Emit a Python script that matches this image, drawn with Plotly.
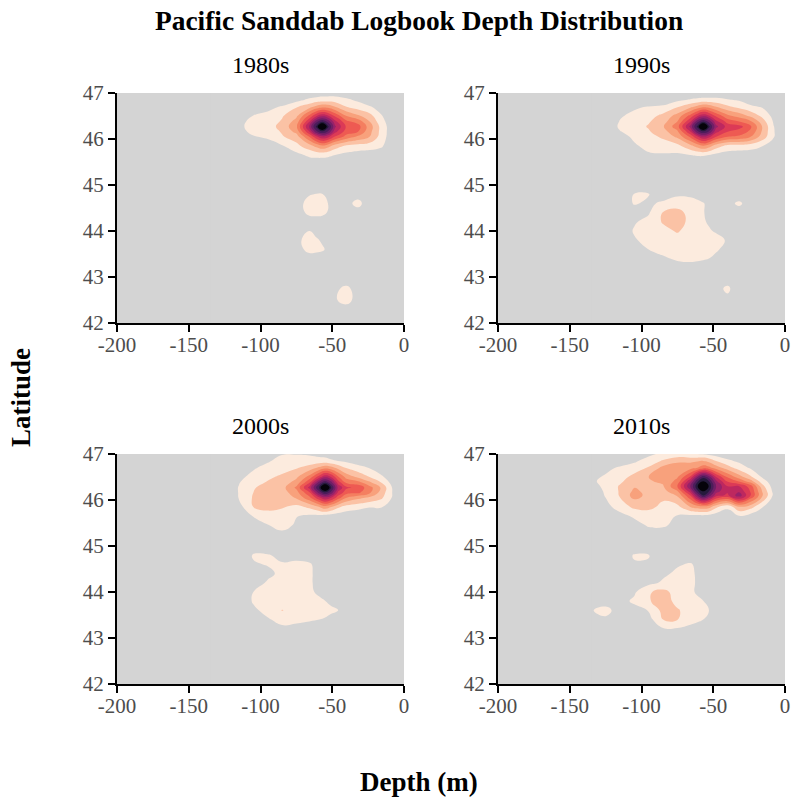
import plotly.graph_objects as go

DEPTH = [-135,-125,-115,-105,-95,-85,-75,-66,-61,-57,-53,-48,-40,-32,-24,-16,-8,0]
DEPTH_2000S = [-135,-125,-115,-105,-95,-85,-75,-66,-59,-55,-51,-46,-40,-32,-24,-16,-8,0]
LAT = [47,46.85,46.7,46.5,46.38,46.27,46.16,46.05,45.85,45.65,45.45,45.2,45,44.8,44.6,44.4,44.2,44,43.8,43.6,43.4,43.2,43,42.75,42.5,42.25,42]
LAT_2010S = [47,46.85,46.7,46.5,46.41,46.3,46.19,46.1,45.85,45.65,45.45,45.2,45,44.8,44.6,44.4,44.2,44,43.8,43.6,43.4,43.2,43,42.75,42.5,42.25,42]

# Rows run north to south; trailing zeros are left out of each row.
D1980 = [
[0,0,0,0,0,0,0,.3,.4,.5,.5,.5,.3],
[0,0,0,0,0,.2,.7,1.2,1.4,1.5,1.5,1.5,1.2,.8,.2],
[0,0,0,.2,.7,1.1,1.9,2.6,3.3,3.7,3.6,3,2,1.5,1.1,.6],
[0,0,.2,1.05,1.3,1.9,2.8,5.3,6.9,7.8,7.2,5.8,4,3.2,2.4,1.1,.3],
[0,0,.6,1.4,1.5,2.1,3.4,6.9,9.7,10.8,9.7,7.3,5.2,4.6,3,1.4,.3],
[0,0,.7,1.5,1.6,2.3,3.8,8.2,11.3,14.5,11.3,8.2,5.8,5.4,3.5,1.7,.3],
[0,0,.6,1.3,1.4,2.1,3.3,6.9,9.7,10.8,9.9,7.3,5.5,5,3.3,1.7,.3],
[0,0,.1,.9,1.2,1.9,2.5,5,6.8,7.8,7.3,5.9,4.6,3.8,3,1.6,.3],
[0,0,0,0,.4,.9,1.7,2.6,3.3,3.8,3.4,2.5,1.8,1.6,1.5,1.2,.1],
[0,0,0,0,0,.2,.7,1.2,1.3,1.3,1.2,1,.7,.5,.4,.2],
[0,0,0,0,0,0,.1,.3,.3,.3,.3,.2,.1],
[],
[],
[0,0,0,0,0,0,.2,.9,1.05,1.05,.7,.2,0,.3],
[0,0,0,0,0,0,.4,1.5,1.6,1.5,1,.3,.5,1.5],
[0,0,0,0,0,0,.2,1.4,1.5,1.4,.9,.2,0,.3],
[0,0,0,0,0,0,0,.2,.2,.2,.1],
[0,0,0,0,0,0,.3,1,.5,.2],
[0,0,0,0,0,0,.6,1.6,1.2,.8,.3],
[0,0,0,0,0,0,.3,1.5,1.4,1.2,.7,.2],
[0,0,0,0,0,0,0,.2,.2,.2,.1],
[],
[],
[0,0,0,0,0,0,0,0,0,0,0,.75,1.3,.4],
[0,0,0,0,0,0,0,0,0,0,0,.85,1.6,.3],
[],
[],
]

D1990 = [
[0,0,0,0,0,0,.2,.2,.3,.3,.3,.3,.2,.1],
[0,0,0,0,.1,.3,.8,1.1,1.2,1.3,1.3,1.3,1.1,.9,.4],
[0,0,.2,.85,1.05,1.2,1.9,2.7,3.3,3.8,3.6,3,2.2,1.7,1.2,.9,.2],
[0,0,.9,1.25,1.6,2.3,3.4,5.4,6.9,7.8,7.2,5.8,4.3,3.6,2.8,1.8,.7],
[0,.2,1.05,1.35,1.9,2.6,4,6.9,9.7,10.8,9.7,7.3,5.6,5,4.2,2.5,.9],
[0,.3,1.15,1.5,2.1,2.9,4.6,8.3,11.3,14.5,11.3,8.3,6.6,6.4,5.2,3,1.05],
[0,.2,.95,1.35,1.9,2.6,3.8,6.9,9.7,10.8,9.9,7.3,6,5.6,4.8,2.9,1.1],
[0,0,.7,1.15,1.6,2.2,3.2,5.2,6.9,7.9,7.3,6,5,4.8,4,2.6,1.1],
[0,0,.3,.9,1.2,1.4,1.7,2.7,3.4,3.9,3.4,2.5,1.7,1.6,1.5,1.05,.2],
[0,0,0,.2,.9,.9,.8,1,1.1,1.1,1,.7,.5,.4,.3,.1],
[0,0,0,0,.2,.2,.1,.2,.2,.2,.2,.1],
[],
[0,0,0,.2,.2],
[0,0,.3,1.05,1.05,.4,.8,.8,.7,.5,.3,.1],
[0,0,.2,1.1,.8,1.2,1.6,1.4,1.2,1.05,.8,.4,.5,1.3,.2],
[0,0,0,.4,.9,2.05,2.3,1.7,1.4,1.05,.8,.4,0,.2],
[0,0,0,.9,1.3,2.1,2.5,1.7,1.4,1.1,.9,.5],
[0,0,.3,1.1,1.4,1.7,2.1,1.6,1.4,1.2,1.1,.9,.2],
[0,0,.2,.9,1.3,1.5,1.6,1.6,1.55,1.5,1.4,1.3,.9,.2],
[0,0,0,.3,1,1.4,1.5,1.5,1.45,1.4,1.3,1.15,.6],
[0,0,0,0,.3,.8,1.2,1.3,1.25,1.15,1,.7,.1],
[0,0,0,0,0,.2,.4,.5,.4,.3,.2,.1],
[],
[0,0,0,0,0,0,0,0,0,0,0,.5,1.3],
[0,0,0,0,0,0,0,0,0,0,0,0,.6],
[],
[],
]

D2000 = [
[0,0,0,0,.4,.95,.95,.9,.7,.6,.4,.3],
[0,0,0,.3,.9,1.3,1.4,1.4,1.4,1.4,1.2,1,.8,.5,.2],
[0,0,.2,.9,1.25,1.6,1.9,2.4,3.2,3.7,3.4,2.7,1.9,1.35,.95,.4],
[0,0,.8,1.25,1.8,2.2,2.8,4.4,6.6,7.8,7.1,5.2,3.6,2.8,2,1.2,.4],
[0,.1,.95,1.6,2.1,2.4,3.4,5.8,9.5,10.8,9.5,6.6,4.8,4.4,3.2,2,.6],
[0,.3,1.05,1.95,2.2,2.6,4.2,7.3,11.3,14.5,11.3,7.8,6.2,5.7,4.4,2.9,.9],
[0,.2,1.05,2,2.25,2.5,3.6,5.8,9.5,10.8,9.7,6.8,5.4,5.2,4.2,2.6,.95],
[0,.2,1.05,2.1,2.3,2.5,3.1,4.7,6.8,7.8,7.1,5.5,4,3.3,2.8,2.2,.9],
[0,0,.6,2,2.4,2.1,1.7,2.2,3,3.6,3.1,2.2,1.6,1.3,1.05,1.1,.1],
[0,0,.1,1.05,1.4,1.5,1.05,.8,.7,.6,.5,.4,.3,.3,.3,.2],
[0,0,0,.3,.95,1.5,.8,.3,.2,.1],
[0,0,0,0,.2,.4,.1],
[0,0,0,.2,.2],
[0,0,.3,1.1,1.1,.7,.7,.6,.4,.2],
[0,0,.1,.9,1.05,1.1,1.2,1.1,.7,.4,.1],
[0,0,0,.3,.8,1.2,1.4,1.1,.8,.5,.2],
[0,0,0,.6,1.1,1.4,1.5,1.1,.8,.5,.2],
[0,0,.2,1,1.4,1.5,1.5,1.1,.9,.7,.5,.3],
[0,0,.2,1.1,1.5,1.6,1.6,1.3,1.1,1.02,.8,.5],
[0,0,0,.8,1.3,2.03,1.7,1.5,1.4,1.35,1.2,1.05,.3],
[0,0,0,.2,.9,1.3,1.3,1.15,1,.9,.7,.5],
[0,0,0,0,.2,.8,.6,.4,.3,.2,.1],
[],
[],
[],
[],
[],
]

D2010 = [
[0,0,0,0,.7,1.3,1.3,1.1,1,.9,.7,.5,.3],
[0,0,.2,.8,1.5,2.1,2.8,2.8,2.9,3,2.7,2,1.2,.8,.3],
[0,.6,1.2,1.5,2.1,3.3,3.5,3.6,4,4.6,4.3,3.5,2.5,1.5,.85,.3],
[.6,1.2,1.6,2.3,3,3.4,3.9,6.2,9,10.7,9.5,7,4.9,3.5,2.2,.9,.2],
[.75,1.4,1.8,2.6,2.9,3.2,4.3,7.8,10.8,12,11,8.2,5.8,4.8,3.4,1.5,.35],
[.5,1.3,2.1,2.9,2.6,2.9,5,9,11.8,16,11.8,9,7,7,5.5,2.4,.5],
[.1,1.2,2.1,3.2,2.7,2.6,3.9,7.6,10.8,12,11,8.4,7.2,7.8,5.9,3,.7],
[0,1.1,2.1,3.4,2.7,2.3,3.1,6,9,11,9.6,7.4,6.8,8.6,6,3.2,.8],
[0,.6,1.5,2.2,2.3,1.7,1.7,3,3.4,3.6,3.4,2.2,1.2,2.9,2.4,1.1,.2],
[0,0,.6,1.2,1.4,1.2,.95,.7,.7,.7,.6,.4,.4,.9,.5,.1],
[0,0,.1,.5,1.15,1.15,.7,.2,.15,.1],
[0,0,0,0,.2,.3,.1],
[0,0,0,.2,.2,0,0,.1],
[0,0,.3,1.1,1.05,.2,.3,.4,.25,.1],
[0,0,.2,.9,.9,.5,.9,1.1,.8,.5,.2],
[0,0,0,.2,.2,.8,1.2,1.15,.9,.6,.3],
[0,0,0,.3,.7,1.15,1.4,1.2,.9,.6,.3],
[0,0,.3,.85,1.9,2.3,1.6,1.15,.9,.7,.4,.1],
[0,.3,.6,1.2,1.9,2.5,1.7,1.3,1.15,1.02,.8,.5],
[.9,1.5,.3,.6,1.05,2.3,2.1,1.6,1.45,1.3,1,.7],
[0,.7,0,.1,.6,2,2.05,1.5,1.25,1,.8,.5],
[0,0,0,0,.2,.9,.9,.6,.4,.2,.1],
[],
[],
[],
[],
[],
]

PANEL_TITLES = ["1980s", "1990s", "2000s", "2010s"]
LEVEL_COLORS = ["#d4d4d4","#fcebde","#fbc2a5","#f8a17c","#f47f60","#ee5a52","#dc3a56",
                "#bd285f","#96226a","#6e1f66","#4a1d5a","#251a3c","#05030a"]
X_TICKS = [-200,-150,-100,-50,0]
Y_TICKS = [42,43,44,45,46,47]

n = len(LEVEL_COLORS)
scale = []
for i, c in enumerate(LEVEL_COLORS):
    scale += [[i/n, c], [(i+1)/n, c]]

FONT = "Liberation Serif"
PAGE = 800

def fx(px):
    return px / PAGE

def fy(py):
    return 1 - py / PAGE

def full(rows):
    return [r + [0] * (len(DEPTH) - len(r)) for r in rows]

fig = go.Figure()
panels = [
    (DEPTH, LAT, D1980, "x", "y", (117,404), (93,323)),
    (DEPTH, LAT, D1990, "x2", "y2", (498,785), (93,323)),
    (DEPTH_2000S, LAT, D2000, "x3", "y3", (117,404), (454,684)),
    (DEPTH, LAT_2010S, D2010, "x4", "y4", (498,785), (454,684)),
]
for (xs, ys, zs, xa, ya, (l, r), (t, b)), title in zip(panels, PANEL_TITLES):
    fig.add_trace(go.Contour(
        x=xs, y=ys[::-1], z=full(zs)[::-1], xaxis=xa, yaxis=ya,
        zmin=0, zmax=n, colorscale=scale, showscale=False,
        contours=dict(coloring="fill", start=1, end=n-1, size=1, showlines=False),
        line=dict(width=0, smoothing=1.3), hoverinfo="skip",
    ))
    sfx = xa[1:]
    axis = dict(showline=True, linecolor="black", linewidth=2, ticks="outside", automargin=False,
                tickwidth=2, ticklen=7, tickcolor="black", showgrid=False, zeroline=False,
                tickfont=dict(family=FONT, size=21, color="#4d4d4d"))
    fig.update_layout({
        "xaxis"+sfx: dict(axis, range=[-200,0], tickvals=X_TICKS, domain=[fx(l), fx(r)],
                          anchor=ya, ticktext=[str(v) for v in X_TICKS], tickmode="array",
                          ticklabelstandoff=-5),
        "yaxis"+sfx: dict(axis, range=[42,47], tickvals=Y_TICKS, domain=[fy(b), fy(t)],
                          anchor=xa),
    })
    fig.add_annotation(text=title, x=fx((l+r)/2), y=fy(t-28), xref="paper", yref="paper",
                       showarrow=False, font=dict(family=FONT, size=24, color="black"),
                       xanchor="center", yanchor="middle")

def label(text, x, y, size, angle=0):
    fig.add_annotation(text="<b>%s</b>" % text, x=fx(x), y=fy(y), xref="paper", yref="paper",
                       showarrow=False, textangle=angle, xanchor="center", yanchor="middle",
                       font=dict(family=FONT, size=size, color="black"))

label("Pacific Sanddab Logbook Depth Distribution", 419, 21, 27.4)
label("Latitude", 21, 398, 27, -90)
label("Depth (m)", 419, 782, 27)

fig.update_layout(width=PAGE, height=PAGE, autosize=False, margin=dict(l=0,r=0,t=0,b=0),
                  paper_bgcolor="white", plot_bgcolor="#d4d4d4", showlegend=False)
fig.write_html("out.html", config={"displayModeBar": False},
               post_script="document.body.style.margin='0';document.documentElement.style.overflow='hidden';")
